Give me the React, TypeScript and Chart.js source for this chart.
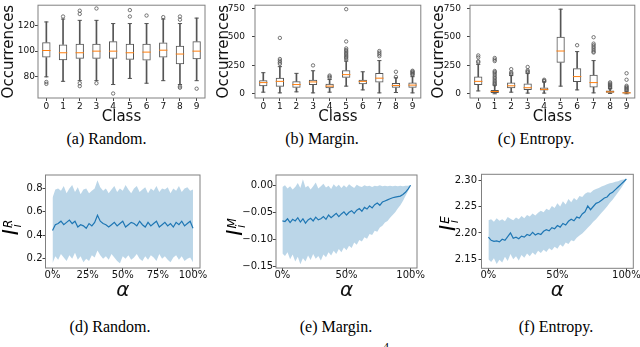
import React, { useEffect, useRef } from 'react';
import { Chart, registerables } from 'chart.js';
Chart.register(...registerables);
Chart.defaults.font.family = 'DejaVu Sans';

// ---------------- data ----------------
const classLabels = ['0', '1', '2', '3', '4', '5', '6', '7', '8', '9'];

// (a) Random
const randomLow = [80, 76.5, 77, 77, 74, 78.75, 75, 77, 74, 77];
const randomQ1 = [95, 93, 94, 94, 94, 93.25, 92.75, 95, 89.75, 93.75];
const randomMedian = [100.5, 98.75, 98.75, 100, 100, 98.75, 99.25, 100.75, 97.75, 100];
const randomQ3 = [107, 105.25, 105.75, 105.75, 107.75, 105.75, 105.75, 106.75, 104.25, 107.75];
const randomHigh = [122.75, 125, 124, 124, 121.5, 121.5, 121.5, 125, 121.5, 125.75];
const randomOutliers = [[76, 74.5], [127], [131.5, 129, 75, 72.75], [133.25, 75], [67], [132, 127], [127.75], [126.5], [127, 124.5, 72.5, 71.5], [70.75]];

// (b) Margin
const marginLow = [14, 8, 17, 8, 14, 67, 34, 8, 11, 8];
const marginQ1 = [67, 62, 53, 76, 48, 140, 84, 98, 53, 53];
const marginMedian = [98, 109, 81, 104, 67, 168, 109, 137, 73, 76];
const marginQ3 = [118, 140, 109, 123, 87, 207, 123, 182, 95, 98];
const marginHigh = [185, 238, 179, 202, 125, 286, 193, 291, 140, 150];
const marginOutliers = [[], [490, 305, 290, 275, 262], [], [249], [160, 150, 140], [742, 459, 398, 384, 372, 360, 348, 336, 325, 314, 300], [], [375, 360, 345, 330], [193, 148], [202, 195, 188, 180, 172, 165]];

// (c) Entropy
const entropyLow = [25, 0, 14, 6, 6, 67, 34, 8, 3, 0];
const entropyQ1 = [76, 6, 48, 34, 28, 272, 104, 56, 8, 3];
const entropyMedian = [109, 20, 70, 53, 39, 375, 151, 98, 17, 8];
const entropyQ3 = [151, 34, 98, 90, 56, 501, 224, 168, 28, 14];
const entropyHigh = [258, 76, 160, 179, 104, 742, 370, 291, 45, 22];
const entropyOutliers = [[336, 319, 285, 275], [314, 300, 287, 200, 190, 179, 165, 150, 138, 125, 112, 100, 90, 80], [216, 188, 178, 170], [235, 205, 195, 188], [123, 115, 110], [], [426], [496, 440, 426, 412, 398, 384, 370, 362], [100, 90, 82, 74, 66, 58, 50], [180, 123, 70, 60, 52, 44, 36, 28]];

const randomOccTicks = [80, 100, 120];
const randomOccTickLabels = ['80', '100', '120'];
const occTicks = [0, 250, 500, 750];
const occTickLabels = ['0', '250', '500', '750'];

// bottom row: alpha grid
const alphaValues = [0, 0.02, 0.04, 0.06, 0.08, 0.1, 0.12, 0.14, 0.16, 0.18, 0.2, 0.22, 0.24, 0.26, 0.28, 0.3, 0.32, 0.34, 0.36, 0.38, 0.4, 0.42, 0.44, 0.46, 0.48, 0.5, 0.52, 0.54, 0.56, 0.58, 0.6, 0.62, 0.64, 0.66, 0.68, 0.7, 0.72, 0.74, 0.76, 0.78, 0.8, 0.82, 0.84, 0.86, 0.88, 0.9, 0.92, 0.94, 0.96, 0.98, 1];

// (d) Random
const randomMean = [0.44, 0.49, 0.50, 0.52, 0.49, 0.51, 0.53, 0.50, 0.52, 0.47,
  0.49, 0.48, 0.46, 0.50, 0.48, 0.51, 0.57, 0.52, 0.50, 0.49,
  0.47, 0.49, 0.51, 0.48, 0.50, 0.52, 0.47, 0.49, 0.51, 0.50,
  0.48, 0.52, 0.49, 0.47, 0.51, 0.48, 0.50, 0.52, 0.47, 0.49,
  0.51, 0.48, 0.50, 0.47, 0.51, 0.49, 0.52, 0.48, 0.50, 0.52, 0.46];
const randomUpper = [0.72, 0.79, 0.80, 0.78, 0.82, 0.76, 0.80, 0.83, 0.77, 0.81,
  0.75, 0.79, 0.80, 0.76, 0.78, 0.80, 0.87, 0.81, 0.78, 0.80,
  0.76, 0.79, 0.82, 0.77, 0.80, 0.78, 0.83, 0.79, 0.76, 0.80,
  0.82, 0.77, 0.79, 0.81, 0.76, 0.80, 0.78, 0.82, 0.77, 0.80,
  0.79, 0.81, 0.76, 0.80, 0.78, 0.82, 0.77, 0.80, 0.81, 0.78, 0.79];
const randomLower = [0.16, 0.22, 0.19, 0.24, 0.21, 0.18, 0.23, 0.20, 0.25, 0.19,
  0.22, 0.17, 0.20, 0.18, 0.23, 0.21, 0.27, 0.23, 0.20, 0.22,
  0.19, 0.24, 0.21, 0.18, 0.16, 0.22, 0.20, 0.23, 0.19, 0.21,
  0.24, 0.20, 0.18, 0.22, 0.19, 0.23, 0.21, 0.18, 0.24, 0.20,
  0.22, 0.19, 0.17, 0.21, 0.23, 0.19, 0.22, 0.18, 0.20, 0.21, 0.17];

// (e) Margin
const marginMean = [-0.066, -0.067, -0.062, -0.069, -0.063, -0.066, -0.060, -0.068, -0.062, -0.070,
  -0.064, -0.061, -0.066, -0.059, -0.064, -0.062, -0.058, -0.063, -0.055, -0.060,
  -0.056, -0.052, -0.058, -0.053, -0.049, -0.055, -0.050, -0.047, -0.052, -0.046,
  -0.043, -0.048, -0.041, -0.044, -0.038, -0.042, -0.036, -0.033, -0.037, -0.031,
  -0.029, -0.027, -0.025, -0.023, -0.022, -0.021, -0.020, -0.017, -0.013, -0.007, 0.0];
const marginUpper = [-0.003, 0.000, -0.006, -0.002, -0.008, -0.003, 0.004, -0.005, 0.011, -0.004,
  -0.001, -0.008, -0.002, 0.005, -0.006, -0.002, 0.003, -0.004, -0.001, -0.007,
  0.002, -0.003, 0.001, -0.005, 0.000, -0.004, 0.002, -0.002, -0.005, 0.001,
  -0.002, -0.003, 0.000, -0.002, -0.001, -0.003, -0.001, -0.002, 0.000, -0.002,
  -0.001, -0.002, -0.001, -0.002, -0.001, -0.002, -0.001, -0.002, -0.001, -0.001, 0.0];
const marginLower = [-0.126, -0.131, -0.124, -0.137, -0.128, -0.141, -0.132, -0.146, -0.135, -0.141,
  -0.130, -0.138, -0.127, -0.136, -0.131, -0.139, -0.128, -0.133, -0.124, -0.130,
  -0.121, -0.127, -0.118, -0.124, -0.115, -0.120, -0.112, -0.116, -0.106, -0.110,
  -0.101, -0.104, -0.096, -0.099, -0.090, -0.092, -0.084, -0.086, -0.078, -0.075,
  -0.069, -0.066, -0.060, -0.055, -0.050, -0.043, -0.037, -0.029, -0.020, -0.011, 0.0];

// (f) Entropy
const entropyMean = [2.192, 2.186, 2.184, 2.185, 2.183, 2.188, 2.186, 2.193, 2.200, 2.190,
  2.192, 2.189, 2.194, 2.192, 2.197, 2.195, 2.201, 2.196, 2.199, 2.197,
  2.203, 2.206, 2.204, 2.210, 2.208, 2.214, 2.211, 2.218, 2.215, 2.222,
  2.226, 2.223, 2.230, 2.228, 2.236, 2.240, 2.251, 2.244, 2.250, 2.256,
  2.258, 2.262, 2.266, 2.268, 2.274, 2.277, 2.282, 2.287, 2.292, 2.297, 2.302];
const entropyUpper = [2.224, 2.226, 2.221, 2.228, 2.223, 2.226, 2.222, 2.230, 2.227, 2.224,
  2.229, 2.226, 2.232, 2.228, 2.234, 2.231, 2.237, 2.233, 2.238, 2.242,
  2.239, 2.246, 2.243, 2.251, 2.247, 2.256, 2.250, 2.260, 2.254, 2.264,
  2.258, 2.266, 2.262, 2.270, 2.268, 2.274, 2.277, 2.276, 2.281, 2.283,
  2.285, 2.288, 2.290, 2.292, 2.294, 2.295, 2.297, 2.298, 2.300, 2.301, 2.302];
const entropyLower = [2.150, 2.145, 2.152, 2.141, 2.149, 2.144, 2.155, 2.147, 2.160, 2.150,
  2.156, 2.148, 2.158, 2.153, 2.161, 2.156, 2.163, 2.158, 2.166, 2.162,
  2.168, 2.164, 2.171, 2.167, 2.174, 2.170, 2.178, 2.174, 2.182, 2.179,
  2.186, 2.184, 2.191, 2.195, 2.199, 2.204, 2.210, 2.215, 2.221, 2.226,
  2.232, 2.238, 2.244, 2.250, 2.257, 2.263, 2.270, 2.277, 2.284, 2.292, 2.301];

const alphaTicksFine = [0, 0.25, 0.5, 0.75, 1];
const alphaTickLabelsFine = ['0%', '25%', '50%', '75%', '100%'];
const alphaTicksCoarse = [0, 0.5, 1];
const alphaTickLabelsCoarse = ['0%', '50%', '100%'];
const randomITicks = [0.2, 0.4, 0.6, 0.8];
const randomITickLabels = ['0.2', '0.4', '0.6', '0.8'];
const marginITicks = [-0.15, -0.10, -0.05, 0];
const marginITickLabels = ['\u22120.15', '\u22120.10', '\u22120.05', '0.00'];
const entropyITicks = [2.15, 2.20, 2.25, 2.30];
const entropyITickLabels = ['2.15', '2.20', '2.25', '2.30'];

// ---------------- styling helpers ----------------
const TEXT = '#111';
const TICK = '#444';
const LINE = '#555';
const FRAME = '#808080';

const framePlugin = {
  id: 'frame',
  afterDatasetsDraw(chart: any) {
    const { ctx, chartArea } = chart;
    ctx.save();
    ctx.strokeStyle = FRAME;
    ctx.lineWidth = 1;
    ctx.strokeRect(chartArea.left, chartArea.top, chartArea.right - chartArea.left, chartArea.bottom - chartArea.top);
    ctx.restore();
  },
};

function mathLabelPlugin(sup: string, baseX: number, centerY: number) {
  return {
    id: 'mathLabel',
    afterDraw(chart: any) {
      const ctx = chart.ctx;
      ctx.save();
      ctx.fillStyle = '#000';
      ctx.textBaseline = 'alphabetic';
      ctx.textAlign = 'left';
      const bigFont = 'italic 21px "DejaVu Sans"';
      const smallFont = 'italic 12px "DejaVu Sans"';
      ctx.font = bigFont;
      const wI = ctx.measureText('I').width;
      ctx.font = smallFont;
      const wS = Math.max(ctx.measureText(sup).width, ctx.measureText('i').width);
      const total = wI + 1 + wS;
      ctx.translate(baseX, centerY);
      ctx.rotate(-Math.PI / 2);
      const x0 = -total / 2;
      ctx.font = bigFont;
      ctx.fillText('I', x0, 0);
      ctx.font = smallFont;
      ctx.fillText(sup, x0 + wI + 1, -6);
      ctx.fillText('i', x0 + wI + 1.5, 3);
      ctx.restore();
    },
  };
}

function fixAxis(size: number, horizontal: boolean) {
  return (s: any) => {
    if (horizontal) s.height = size; else s.width = size;
    s.paddingLeft = 0; s.paddingRight = 0; s.paddingTop = 0; s.paddingBottom = 0;
  };
}
function setTicks(values: number[]) {
  return (s: any) => { s.ticks = values.map((v) => ({ value: v })); };
}

type BoxSet = { low: number[]; q1: number[]; median: number[]; q3: number[]; high: number[]; outliers: number[][] };

function boxConfig(p: {
  box: BoxSet; yMin: number; yMax: number; yTicks: number[]; yTickLabels: string[];
  yAxisW: number; xAxisH: number; padTop: number; padRight: number; yTickPad: number; yTitlePad: number;
}) {
  const b = p.box;
  const caps: any[] = [];
  classLabels.forEach((c, i) => { caps.push({ x: c, y: b.low[i] }); caps.push({ x: c, y: b.high[i] }); });
  const outs: any[] = [];
  classLabels.forEach((c, i) => b.outliers[i].forEach((v) => outs.push({ x: c, y: v })));
  return {
    type: 'bar',
    data: {
      labels: classLabels,
      datasets: [
        { type: 'scatter', data: classLabels.map((c, i) => ({ x: c, y: b.median[i] })), pointStyle: 'line', pointRadius: 4.2, borderColor: '#ff7f0e', borderWidth: 1 },
        { type: 'scatter', data: caps, pointStyle: 'line', pointRadius: 2.1, borderColor: LINE, borderWidth: 1 },
        { type: 'scatter', data: outs, pointStyle: 'circle', pointRadius: 1.7, borderColor: LINE, borderWidth: 0.8, backgroundColor: 'rgba(0,0,0,0)' },
        { type: 'bar', data: classLabels.map((c, i) => ({ x: c, y: [b.q1[i], b.q3[i]] })), backgroundColor: 'rgba(255,255,255,0)', borderColor: LINE, borderWidth: 1, borderSkipped: false, grouped: false, categoryPercentage: 1, barPercentage: 0.5 },
        { type: 'bar', data: classLabels.map((c, i) => ({ x: c, y: [b.low[i], b.q1[i]] })), backgroundColor: LINE, borderWidth: 0, grouped: false, categoryPercentage: 1, barPercentage: 1, maxBarThickness: 1 },
        { type: 'bar', data: classLabels.map((c, i) => ({ x: c, y: [b.q3[i], b.high[i]] })), backgroundColor: LINE, borderWidth: 0, grouped: false, categoryPercentage: 1, barPercentage: 1, maxBarThickness: 1 },
      ],
    },
    options: {
      responsive: false, animation: false, events: [],
      layout: { padding: { top: p.padTop, right: p.padRight, left: 0, bottom: 0 } },
      plugins: { legend: { display: false }, tooltip: { enabled: false } },
      scales: {
        x: {
          type: 'category', offset: true,
          grid: { display: true, drawOnChartArea: false, drawTicks: true, tickLength: 3, offset: false, color: TICK },
          border: { display: false },
          ticks: { font: { size: 9 }, color: TEXT, padding: 0, maxRotation: 0, autoSkip: false },
          title: { display: true, text: 'Class', font: { size: 15 }, color: TEXT, padding: { top: 0, bottom: 2 } },
          afterFit: fixAxis(p.xAxisH, true),
        },
        y: {
          type: 'linear', min: p.yMin, max: p.yMax,
          afterBuildTicks: setTicks(p.yTicks),
          grid: { display: true, drawOnChartArea: false, drawTicks: true, tickLength: 3, color: TICK },
          border: { display: false },
          ticks: { font: { size: 9 }, color: TEXT, padding: p.yTickPad, callback: (_v: any, i: number) => p.yTickLabels[i] },
          title: { display: true, text: 'Occurrences', font: { size: 15 }, color: TEXT, padding: { top: p.yTitlePad, bottom: 0 } },
          afterFit: fixAxis(p.yAxisW, false),
        },
      },
    },
    plugins: [framePlugin],
  };
}

function bandConfig(p: {
  mean: number[]; upper: number[]; lower: number[]; yMin: number; yMax: number;
  yTicks: number[]; yTickLabels: string[]; xTicks: number[]; xTickLabels: string[];
  yAxisW: number; xAxisH: number; padTop: number; padRight: number; yTickPad: number;
  sup: string; labelX: number; labelY: number;
}) {
  const pts = (arr: number[]) => alphaValues.map((a, i) => ({ x: a, y: arr[i] }));
  return {
    type: 'line',
    data: {
      datasets: [
        { data: pts(p.mean), borderColor: '#1f77b4', borderWidth: 1.2, pointRadius: 0, fill: false, tension: 0 },
        { data: pts(p.upper), borderColor: 'rgba(0,0,0,0)', borderWidth: 0, pointRadius: 0, backgroundColor: 'rgba(31,119,180,0.3)', fill: '+1', tension: 0 },
        { data: pts(p.lower), borderColor: 'rgba(0,0,0,0)', borderWidth: 0, pointRadius: 0, fill: false, tension: 0 },
      ],
    },
    options: {
      responsive: false, animation: false, events: [],
      layout: { padding: { top: p.padTop, right: p.padRight, left: 0, bottom: 0 } },
      plugins: { legend: { display: false }, tooltip: { enabled: false } },
      scales: {
        x: {
          type: 'linear', min: -0.05, max: 1.05,
          afterBuildTicks: setTicks(p.xTicks),
          grid: { display: true, drawOnChartArea: false, drawTicks: true, tickLength: 3, color: TICK },
          border: { display: false },
          ticks: { font: { size: 10, lineHeight: 1 }, color: TEXT, padding: -1, maxRotation: 0, autoSkip: false, callback: (_v: any, i: number) => p.xTickLabels[i] },
          title: { display: true, text: '\u03b1', font: { size: 20, style: 'italic' }, color: TEXT, padding: { top: 0, bottom: 7 } },
          afterFit: fixAxis(p.xAxisH, true),
        },
        y: {
          type: 'linear', min: p.yMin, max: p.yMax,
          afterBuildTicks: setTicks(p.yTicks),
          grid: { display: true, drawOnChartArea: false, drawTicks: true, tickLength: 3, color: TICK },
          border: { display: false },
          ticks: { font: { size: 10 }, color: TEXT, padding: p.yTickPad, callback: (_v: any, i: number) => p.yTickLabels[i] },
          title: { display: false },
          afterFit: fixAxis(p.yAxisW, false),
        },
      },
    },
    plugins: [framePlugin, mathLabelPlugin(p.sup, p.labelX, p.labelY)],
  };
}

function ChartCanvas(props: { left: number; top: number; width: number; height: number; make: () => any }) {
  const ref = useRef<HTMLCanvasElement>(null);
  useEffect(() => {
    const chart = new Chart(ref.current as HTMLCanvasElement, props.make());
    return () => chart.destroy();
  }, []);
  return (
    <canvas ref={ref} width={props.width} height={props.height}
      style={{ position: 'absolute', left: props.left, top: props.top, width: props.width, height: props.height }} />
  );
}

function Caption(props: { cx: number; top: number; size: number; text: string }) {
  return (
    <div style={{ position: 'absolute', left: props.cx - 80, width: 160, top: props.top, textAlign: 'center', fontFamily: '"Liberation Serif", serif', fontSize: props.size, lineHeight: props.size + 'px', color: '#000', whiteSpace: 'nowrap' }}>
      {props.text}
    </div>
  );
}

export default function App() {
  const randomBox: BoxSet = { low: randomLow, q1: randomQ1, median: randomMedian, q3: randomQ3, high: randomHigh, outliers: randomOutliers };
  const marginBox: BoxSet = { low: marginLow, q1: marginQ1, median: marginMedian, q3: marginQ3, high: marginHigh, outliers: marginOutliers };
  const entropyBox: BoxSet = { low: entropyLow, q1: entropyQ1, median: entropyMedian, q3: entropyQ3, high: entropyHigh, outliers: entropyOutliers };
  return (
    <div style={{ position: 'fixed', left: 0, top: 0, width: 640, height: 347, background: '#fff', overflow: 'hidden' }}>
      <ChartCanvas left={0} top={0} width={212} height={128} make={() => boxConfig({
        box: randomBox, yMin: 63.5, yMax: 135.8, yTicks: randomOccTicks, yTickLabels: randomOccTickLabels,
        yAxisW: 38, xAxisH: 30, padTop: 2, padRight: 7, yTickPad: 0, yTitlePad: 0.5,
      })} />
      <ChartCanvas left={212} top={0} width={214} height={128} make={() => boxConfig({
        box: marginBox, yMin: -37, yMax: 777, yTicks: occTicks, yTickLabels: occTickLabels,
        yAxisW: 43, xAxisH: 30, padTop: 2, padRight: 5, yTickPad: 7, yTitlePad: 3.5,
      })} />
      <ChartCanvas left={426} top={0} width={214} height={128} make={() => boxConfig({
        box: entropyBox, yMin: -37, yMax: 777, yTicks: occTicks, yTickLabels: occTickLabels,
        yAxisW: 44, xAxisH: 30, padTop: 2, padRight: 4, yTickPad: 6, yTitlePad: 4.5,
      })} />
      <ChartCanvas left={0} top={160} width={212} height={150} make={() => bandConfig({
        mean: randomMean, upper: randomUpper, lower: randomLower, yMin: 0.12, yMax: 0.915,
        yTicks: randomITicks, yTickLabels: randomITickLabels, xTicks: alphaTicksFine, xTickLabels: alphaTickLabelsFine,
        yAxisW: 45.5, xAxisH: 42, padTop: 15, padRight: 12, yTickPad: 0, sup: 'R', labelX: 18, labelY: 67.5,
      })} />
      <ChartCanvas left={212} top={160} width={214} height={150} make={() => bandConfig({
        mean: marginMean, upper: marginUpper, lower: marginLower, yMin: -0.153, yMax: 0.019,
        yTicks: marginITicks, yTickLabels: marginITickLabels, xTicks: alphaTicksCoarse, xTickLabels: alphaTickLabelsCoarse,
        yAxisW: 64, xAxisH: 42, padTop: 15, padRight: 9, yTickPad: 0, sup: 'M', labelX: 30, labelY: 67,
      })} />
      <ChartCanvas left={426} top={160} width={214} height={150} make={() => bandConfig({
        mean: entropyMean, upper: entropyUpper, lower: entropyLower, yMin: 2.133, yMax: 2.311,
        yTicks: entropyITicks, yTickLabels: entropyITickLabels, xTicks: alphaTicksCoarse, xTickLabels: alphaTickLabelsCoarse,
        yAxisW: 55.5, xAxisH: 41.7, padTop: 14.3, padRight: 6.7, yTickPad: 1.5, sup: 'E', labelX: 29, labelY: 63.5,
      })} />
      <Caption cx={106.5} top={131} size={16} text="(a) Random." />
      <Caption cx={322} top={131} size={16} text="(b) Margin." />
      <Caption cx={536} top={131} size={16} text="(c) Entropy." />
      <Caption cx={110} top={318.5} size={16} text="(d) Random." />
      <Caption cx={336} top={318.5} size={16} text="(e) Margin." />
      <Caption cx={556} top={318.5} size={16} text="(f) Entropy." />
      <div style={{ position: 'absolute', left: 383, top: 341, fontFamily: '"Liberation Serif", serif', fontSize: 12, lineHeight: '12px', color: '#000' }}>4</div>
    </div>
  );
}
